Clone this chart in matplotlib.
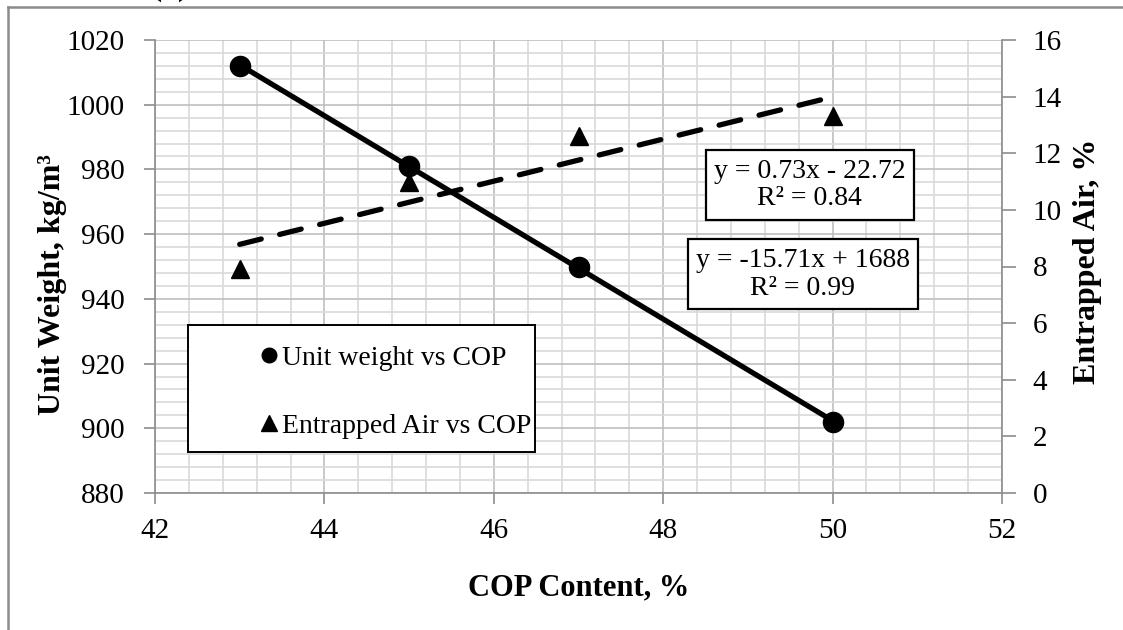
import numpy as np
import matplotlib.pyplot as plt
from matplotlib.lines import Line2D
from matplotlib.patches import Rectangle

plt.rcParams['font.family'] = ['Liberation Serif', 'DejaVu Serif']

# data
cop = [43, 45, 47, 50]
unit_weight = [1012, 981, 950, 902]
entrapped_air = [7.9, 11.0, 12.6, 13.3]

uw_label = "Unit weight vs COP"
air_label = "Entrapped Air vs COP"
uw_eq = "y = -15.71x + 1688\nR\u00b2 = 0.99"
air_eq = "y = 0.73x - 22.72\nR\u00b2 = 0.84"

W, H = 1123, 630
fig = plt.figure(figsize=(W / 100, H / 100), dpi=100)
ax = fig.add_axes([155 / W, 1 - 493 / H, (1002 - 155) / W, (493 - 40) / H])
ax2 = ax.twinx()

# outer frame (only left and top edges visible)
fig.add_artist(Line2D([8 / W, 8 / W], [0, 1 - 7 / H], color='#8c8c8c', lw=1.8,
                      transform=fig.transFigure))
fig.add_artist(Line2D([8 / W, 1], [1 - 7 / H, 1 - 7 / H], color='#8c8c8c', lw=1.8,
                      transform=fig.transFigure))
fig.text(170 / W, 1 + 13 / H, "(a)", fontsize=24, fontweight='bold',
         ha='center', va='center')

# grid
ax.set_xlim(42, 52)
ax.set_ylim(880, 1020)
ax2.set_ylim(0, 16)
ax.set_xticks(np.arange(42, 53, 2))
ax.set_xticks(np.arange(42, 52.01, 0.4), minor=True)
ax.set_yticks(np.arange(880, 1021, 20))
ax.set_yticks(np.arange(880, 1020.1, 4), minor=True)
ax2.set_yticks(np.arange(0, 17, 2))
ax.grid(which='major', color='#bfbfbf', lw=1.2)
ax.grid(which='minor', color='#d9d9d9', lw=1.2)
ax.set_axisbelow(True)

for a in (ax, ax2):
    for s in a.spines.values():
        s.set_color('#8c8c8c')
        s.set_linewidth(1.2)
    a.spines['top'].set_visible(False)
ax.spines['right'].set_visible(False)
ax2.spines['left'].set_visible(False)
ax2.spines['bottom'].set_visible(False)

ax.tick_params(which='minor', length=0)
ax.tick_params(axis='x', which='major', direction='out', length=8, width=1.2,
               color='#8c8c8c', labelsize=21, pad=10)
ax.tick_params(axis='y', which='major', direction='out', length=8, width=1.2,
               color='#8c8c8c', labelsize=21, pad=14)
ax2.tick_params(axis='y', direction='out', length=10, width=1.2,
                color='#8c8c8c', labelsize=21, pad=12)

# trend lines fitted from the data
xs = np.array([min(cop), max(cop)])
p_uw = np.polyfit(cop, unit_weight, 1)
p_air = np.polyfit(cop, entrapped_air, 1)
ax.plot(xs, np.polyval(p_uw, xs), color='black', lw=3.8, zorder=3)
ax2.plot(xs, np.polyval(p_air, xs), color='black', lw=3.8, dashes=(4.2, 3.6),
         dash_capstyle='round', zorder=3)

ax.plot(cop, unit_weight, 'o', color='black', ms=14.5, ls='none', zorder=4)
ax2.plot(cop, entrapped_air, '^', color='black', ms=13, ls='none', zorder=4)

# axis labels
ax.set_xlabel("COP Content, %", fontsize=22, fontweight='bold')
ax.xaxis.set_label_coords(0.5, -0.177)
ax.set_ylabel("Unit Weight, kg/m\u00b3", fontsize=23, fontweight='bold')
ax.yaxis.set_label_coords(-0.104, 0.46)
ax2.set_ylabel("Entrapped Air, %", fontsize=23, fontweight='bold')
ax2.yaxis.set_label_coords(1.084, 0.512)

# equation boxes
box = dict(boxstyle='square,pad=0.3', facecolor='white', edgecolor='black', lw=1.6)
ax2.text(0.773, 0.680, air_eq, transform=ax.transAxes, fontsize=20,
         ha='center', va='center', linespacing=1.15, bbox=box, zorder=6)
ax2.text(0.765, 0.483, uw_eq, transform=ax.transAxes, fontsize=20,
         ha='center', va='center', linespacing=1.15, bbox=box, zorder=6)

# legend box
lx0, ly0 = (188 - 155) / 847, 1 - (452 - 40) / 453
lw_, lh_ = (535 - 188) / 847, (452 - 325) / 453
ax2.add_patch(Rectangle((lx0, ly0), lw_, lh_, transform=ax.transAxes,
                        facecolor='white', edgecolor='black', lw=1.4, zorder=5))
handles = [Line2D([], [], marker='o', color='black', ls='none', ms=10.5),
           Line2D([], [], marker='^', color='black', ls='none', ms=11)]
leg = ax2.legend(handles, [uw_label, air_label], loc='center left',
                 bbox_to_anchor=((261 - 155) / 847, 1 - (392 - 40) / 453),
                 bbox_transform=ax.transAxes, frameon=False, fontsize=20,
                 handlelength=0.6, handletextpad=0.15, labelspacing=1.52,
                 borderpad=0, borderaxespad=0)
leg.set_zorder(7)

fig.savefig("out.png", dpi=100)
